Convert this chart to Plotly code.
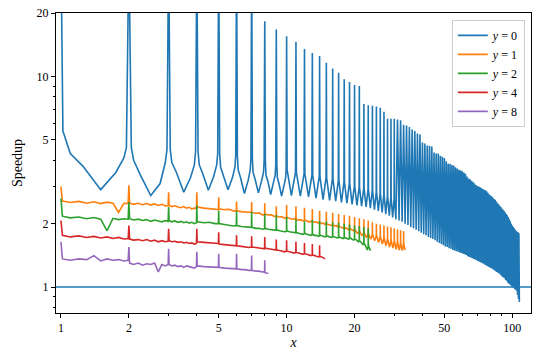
import plotly.graph_objects as go

# ---- data ----
# y = 0 : value of the spike at every integer x (1..107)
peak_y0 = [40, 40, 40, 40, 40, 40, 40, 18.3, 16.7, 15.5,
           14.6, 13.5, 12.9, 12.5, 11.6, 10.9, 10.4, 9.7, 9.4, 9.1,
           9.0, 7.4, 7.3, 7.25, 7.2, 7.1, 6.8, 6.3, 6.3, 6.3,
           6.25, 6.2, 5.9, 5.85, 5.75, 5.6, 5.5, 5.35, 5.3, 4.85,
           4.8, 4.7, 4.68, 4.65, 4.35, 4.3, 4.3, 4.2, 4.15, 4.1,
           3.95, 3.85, 3.85, 3.8, 3.78, 3.7, 3.65, 3.6, 3.58, 3.55,
           3.5, 3.45, 3.35, 3.28, 3.25, 3.2, 3.15, 3.1, 3.05, 3.02,
           3.0, 2.98, 2.95, 2.92, 2.9, 2.88, 2.85, 2.8, 2.75, 2.72,
           2.7, 2.66, 2.62, 2.6, 2.55, 2.5, 2.47, 2.43, 2.4, 2.36,
           2.33, 2.3, 2.26, 2.22, 2.19, 2.15, 2.1, 2.05, 2.0, 1.96,
           1.93, 1.9, 1.87, 1.85, 1.83, 1.82, 1.8]
# y = 0 : level at the foot of the spike (just beside each integer, x = 1..30)
cusp_y0 = [5.5, 4.6, 4.5, 4.4, 4.3, 4.2, 4.1, 4.0, 3.8, 3.6,
           3.5, 3.45, 3.4, 3.35, 3.3, 3.25, 3.2, 3.15, 3.1, 3.0,
           2.97, 2.94, 2.9, 2.86, 2.82, 2.78, 2.74, 2.7, 2.66, 2.62]
# y = 0 : flanks of the first arches, at n+0.1, n+0.25, n+0.75, n+0.9 (n = 1..9)
flank_y0 = [[4.3, 3.75, 3.5, 4.1], [4.0, 3.4, 3.1, 3.9], [3.9, 3.5, 3.3, 3.8],
            [3.8, 3.45, 3.35, 3.8], [3.7, 3.4, 3.3, 3.7], [3.6, 3.3, 3.2, 3.6],
            [3.5, 3.25, 3.2, 3.5], [3.4, 3.2, 3.15, 3.4], [3.3, 3.1, 3.05, 3.3]]
# y = 0 : minimum halfway between two integers (x = 1.5 .. 107.5)
valley_y0 = [2.9, 2.72, 2.82, 2.88, 2.9, 2.78, 2.8, 2.75, 2.7, 2.72,
             2.7, 2.68, 2.64, 2.6, 2.58, 2.56, 2.52, 2.5, 2.47, 2.44,
             2.42, 2.4, 2.37, 2.33, 2.3, 2.26, 2.22, 2.18, 2.14, 2.1,
             2.07, 2.04, 2.0, 1.97, 1.93, 1.9, 1.87, 1.84, 1.81, 1.78,
             1.76, 1.73, 1.71, 1.69, 1.67, 1.64, 1.62, 1.6, 1.58, 1.56,
             1.55, 1.53, 1.52, 1.5, 1.49, 1.48, 1.47, 1.46, 1.45, 1.44,
             1.43, 1.42, 1.4, 1.39, 1.38, 1.37, 1.36, 1.35, 1.34, 1.33,
             1.32, 1.31, 1.3, 1.29, 1.28, 1.27, 1.26, 1.25, 1.24, 1.23,
             1.22, 1.21, 1.2, 1.19, 1.18, 1.17, 1.16, 1.15, 1.13, 1.12,
             1.11, 1.1, 1.08, 1.07, 1.05, 1.04, 1.03, 1.02, 1.01, 1.0,
             0.99, 0.98, 0.97, 0.96, 0.92, 0.88, 0.85]

# y = 1, 2, 4, 8 : one row per unit interval [n, n+1):
# spike at n, level just after it, noisy samples, level just before n+1
offsets = [0, 0.015, 0.3, 0.55, 0.8, 0.985]
offsets_fine = [0, 0.015, 0.1, 0.2, 0.3, 0.4, 0.5, 0.6, 0.7, 0.8, 0.9, 0.985]

speedup_y1 = [
    [3.0, 2.56, 2.52, 2.55, 2.5, 2.54, 2.49, 2.53, 2.5, 2.26, 2.5, 2.49],
    [3.04, 2.5, 2.47, 2.5, 2.46, 2.49, 2.45, 2.48, 2.44, 2.47, 2.43, 2.44],
    [2.82, 2.44, 2.41, 2.43, 2.4, 2.38, 2.41, 2.37, 2.39, 2.35, 2.37, 2.36],
    [2.82, 2.4, 2.37, 2.36, 2.35, 2.33],
    [2.67, 2.35, 2.33, 2.34, 2.3, 2.3], [2.55, 2.3, 2.28, 2.27, 2.25, 2.26],
    [2.53, 2.26, 2.24, 2.25, 2.2, 2.2], [2.5, 2.22, 2.2, 2.2, 2.17, 2.16],
    [2.42, 2.17, 2.15, 2.16, 2.12, 2.13], [2.45, 2.14, 2.12, 2.1, 2.11, 2.09],
    [2.42, 2.1, 2.08, 2.09, 2.06, 2.07], [2.38, 2.08, 2.06, 2.04, 2.05, 2.04],
    [2.35, 2.05, 2.03, 2.04, 2.01, 2.02], [2.3, 2.03, 2.0, 2.01, 1.98, 2.0],
    [2.28, 2.0, 1.98, 1.97, 1.96, 1.97], [2.25, 1.98, 1.95, 1.96, 1.93, 1.94],
    [2.22, 1.95, 1.93, 1.92, 1.9, 1.92], [2.2, 1.93, 1.9, 1.9, 1.87, 1.89],
    [2.18, 1.9, 1.88, 1.87, 1.85, 1.87], [2.15, 1.88, 1.84, 1.8, 1.81, 1.84],
    [2.12, 1.85, 1.8, 1.76, 1.78, 1.82], [2.1, 1.82, 1.77, 1.72, 1.75, 1.8],
    [2.07, 1.8, 1.74, 1.69, 1.72, 1.78], [2.03, 1.78, 1.72, 1.66, 1.7, 1.76],
    [2.0, 1.76, 1.7, 1.63, 1.67, 1.74], [1.98, 1.74, 1.67, 1.6, 1.65, 1.72],
    [1.96, 1.72, 1.64, 1.57, 1.62, 1.7], [1.94, 1.7, 1.62, 1.55, 1.6, 1.68],
    [1.92, 1.69, 1.6, 1.53, 1.58, 1.66], [1.9, 1.67, 1.58, 1.51, 1.57, 1.65],
    [1.88, 1.65, 1.56, 1.5, 1.55, 1.63], [1.86, 1.63, 1.55, 1.49, 1.54, 1.62],
    [1.84, 1.62, 1.54, 1.5],
]
speedup_y2 = [
    [2.63, 2.17, 2.13, 2.15, 2.11, 2.14, 2.1, 1.85, 2.12, 2.09, 2.11, 2.1],
    [2.53, 2.11, 2.08, 2.1, 2.07, 2.09, 2.05, 2.08, 2.06, 2.04, 2.07, 2.05],
    [2.4, 2.07, 2.04, 2.06, 2.03, 2.05, 2.02, 2.04, 2.01, 2.03, 2.0, 2.02],
    [2.44, 2.04, 2.02, 2.03, 2.0, 2.0],
    [2.31, 2.0, 1.98, 1.97, 1.95, 1.96], [2.3, 1.96, 1.94, 1.93, 1.92, 1.92],
    [2.28, 1.92, 1.9, 1.9, 1.88, 1.89], [2.23, 1.9, 1.88, 1.87, 1.86, 1.86],
    [2.2, 1.87, 1.85, 1.84, 1.83, 1.84], [2.15, 1.85, 1.83, 1.82, 1.81, 1.81],
    [2.1, 1.82, 1.8, 1.79, 1.78, 1.79], [2.05, 1.8, 1.78, 1.77, 1.76, 1.77],
    [2.08, 1.78, 1.76, 1.76, 1.74, 1.75], [2.06, 1.77, 1.75, 1.74, 1.73, 1.74],
    [2.05, 1.75, 1.74, 1.73, 1.72, 1.73], [2.03, 1.74, 1.73, 1.72, 1.71, 1.72],
    [2.02, 1.73, 1.72, 1.71, 1.7, 1.71], [2.0, 1.72, 1.71, 1.7, 1.69, 1.7],
    [1.98, 1.71, 1.7, 1.69, 1.67, 1.68], [1.96, 1.69, 1.68, 1.66, 1.64, 1.66],
    [1.95, 1.66, 1.64, 1.61, 1.59, 1.62], [1.93, 1.62, 1.58, 1.54, 1.5, 1.56],
    [1.9, 1.58, 1.53, 1.49],
]
speedup_y4 = [
    [2.07, 1.76, 1.73, 1.75, 1.72, 1.74, 1.71, 1.73, 1.7, 1.72, 1.69, 1.7],
    [1.96, 1.69, 1.67, 1.68, 1.66, 1.68, 1.65, 1.67, 1.64, 1.66, 1.64, 1.65],
    [1.89, 1.66, 1.64, 1.65, 1.63, 1.64, 1.62, 1.63, 1.61, 1.62, 1.6, 1.61],
    [1.89, 1.64, 1.63, 1.62, 1.61, 1.61],
    [1.82, 1.6, 1.59, 1.58, 1.57, 1.57], [1.76, 1.57, 1.56, 1.55, 1.54, 1.55],
    [1.74, 1.55, 1.54, 1.53, 1.52, 1.52], [1.73, 1.53, 1.52, 1.51, 1.5, 1.5],
    [1.68, 1.5, 1.49, 1.48, 1.47, 1.48], [1.67, 1.48, 1.47, 1.46, 1.45, 1.46],
    [1.64, 1.46, 1.45, 1.44, 1.43, 1.44], [1.62, 1.44, 1.43, 1.42, 1.41, 1.42],
    [1.6, 1.42, 1.41, 1.4, 1.39, 1.4], [1.58, 1.4, 1.39, 1.37, 1.36],
]
speedup_y8 = [
    [1.64, 1.36, 1.34, 1.36, 1.35, 1.41, 1.33, 1.36, 1.34, 1.35, 1.33, 1.34],
    [1.55, 1.3, 1.28, 1.3, 1.27, 1.29, 1.28, 1.3, 1.18, 1.28, 1.26, 1.28],
    [1.52, 1.28, 1.26, 1.27, 1.25, 1.26, 1.24, 1.26, 1.25, 1.24, 1.23, 1.25],
    [1.47, 1.26, 1.25, 1.25, 1.24, 1.24],
    [1.44, 1.24, 1.23, 1.23, 1.22, 1.22], [1.44, 1.22, 1.21, 1.21, 1.2, 1.2],
    [1.41, 1.2, 1.19, 1.19, 1.18, 1.18], [1.34, 1.17, 1.16],
]

baseline = 1.0

labels = ['<i>y</i> = 0', '<i>y</i> = 1', '<i>y</i> = 2', '<i>y</i> = 4', '<i>y</i> = 8']
colors = ['#1f77b4', '#ff7f0e', '#2ca02c', '#d62728', '#9467bd']


def spikes_y0():
    xs, ys = [], []
    for i, p in enumerate(peak_y0):
        n = i + 1
        d = 0.02 if n == 1 else 0.05
        if i < len(cusp_y0) and n > 1:
            if i - 1 < len(flank_y0):
                xs.append(n - 0.1)
                ys.append(flank_y0[i - 1][3])
            xs.append(n - d)
            ys.append(cusp_y0[i])
        xs.append(n)
        ys.append(p)
        if i < len(cusp_y0):
            xs.append(n + d)
            ys.append(cusp_y0[i])
        if i < len(flank_y0):
            xs += [n + 0.1, n + 0.25]
            ys += flank_y0[i][:2]
        xs.append(n + 0.5)
        ys.append(valley_y0[i])
        if i < len(flank_y0):
            xs.append(n + 0.75)
            ys.append(flank_y0[i][2])
    return xs, ys


def unroll(rows):
    xs, ys = [], []
    for i, row in enumerate(rows):
        grid = offsets_fine if len(row) > len(offsets) else offsets
        for off, v in zip(grid, row):
            xs.append(i + 1 + off)
            ys.append(v)
    return xs, ys


series = [spikes_y0(), unroll(speedup_y1), unroll(speedup_y2),
          unroll(speedup_y4), unroll(speedup_y8)]

fig = go.Figure()
for (xs, ys), name, c in zip(series, labels, colors):
    fig.add_trace(go.Scatter(x=xs, y=ys, mode='lines', name=name,
                             line=dict(color=c, width=1.6)))

fig.add_hline(y=baseline, line=dict(color=colors[0], width=1.6), layer='below')

font = dict(family='Liberation Serif, DejaVu Serif, serif', size=12, color='black')

fig.update_layout(
    width=545, height=363,
    margin=dict(l=56, r=14, t=13, b=50),
    paper_bgcolor='white', plot_bgcolor='white',
    font=font,
    legend=dict(x=0.987, y=0.977, xanchor='right', yanchor='top',
                bgcolor='rgba(255,255,255,0.8)', bordercolor='#cccccc',
                borderwidth=1, font=dict(size=12), tracegroupgap=0),
    xaxis=dict(type='log', range=[-0.022, 2.083], automargin=False,
               tickvals=[1, 2, 5, 10, 20, 50, 100],
               ticktext=['1', '2', '5', '10', '20', '50', '100'],
               ticks='outside', ticklen=4, tickwidth=1, tickcolor='black',
               minor=dict(tickvals=[3, 4, 6, 7, 8, 9, 30, 40, 60, 70, 80, 90],
                          ticks='outside', ticklen=2, tickwidth=1, tickcolor='black'),
               showline=True, mirror=True, linecolor='black', linewidth=1,
               showgrid=False, zeroline=False,
               title=dict(text='<i>x</i>', standoff=2)),
    yaxis=dict(type='log', range=[-0.1232, 1.30103], automargin=False,
               tickvals=[1, 2, 5, 10, 20],
               ticktext=['1', '2', '5', '10', '20'],
               ticks='outside', ticklen=4, tickwidth=1, tickcolor='black',
               minor=dict(tickvals=[0.8, 0.9, 3, 4, 6, 7, 8, 9],
                          ticks='outside', ticklen=2, tickwidth=1, tickcolor='black'),
               showline=True, mirror=True, linecolor='black', linewidth=1,
               showgrid=False, zeroline=False, ticklabeloverflow='allow',
               title=dict(text='Speedup', standoff=10)),
)

# drop the browser's default body margin so the figure sits at the page corner
fig.write_html('out.html', config={'displayModeBar': False},
               post_script="document.body.style.margin = '0';")
